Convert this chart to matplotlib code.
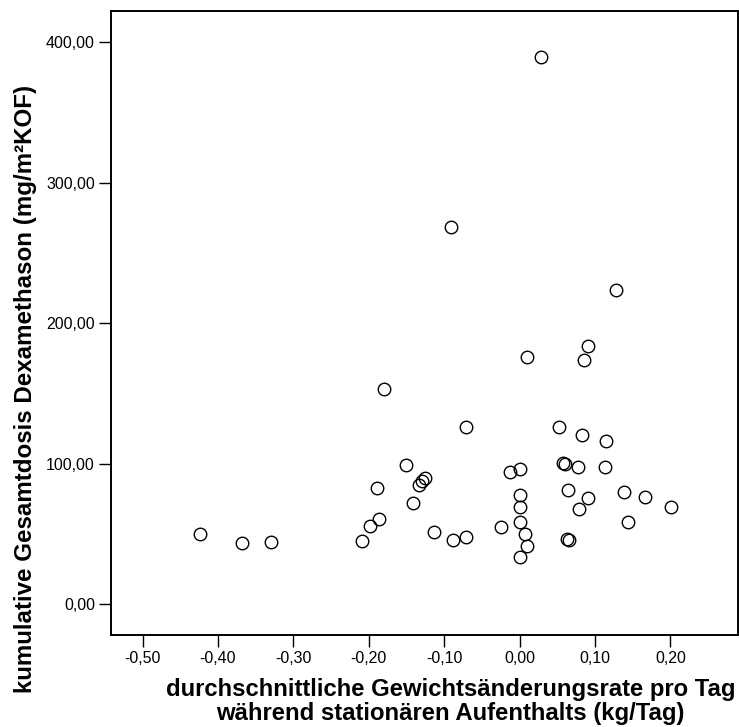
import matplotlib
matplotlib.use("Agg")
import matplotlib.pyplot as plt
from matplotlib.ticker import FuncFormatter

plt.rcParams["font.family"] = ["Liberation Sans", "DejaVu Sans"]

# Gewichtsänderungsrate (kg/Tag) und kumulative Dexamethason-Dosis (mg/m²KOF)
rate = [-0.424, -0.368, -0.330, -0.209, -0.199, -0.187, -0.189, -0.180,
        -0.150, -0.142, -0.126, -0.130, -0.133, -0.114, -0.088, -0.071,
        -0.071, -0.091, -0.025, -0.013, 0.001, 0.001, 0.001, 0.001,
        0.007, 0.010, 0.001, 0.010, 0.029, 0.052, 0.083, 0.114,
        0.058, 0.060, 0.077, 0.113, 0.064, 0.091, 0.079, 0.139,
        0.166, 0.201, 0.144, 0.063, 0.065, 0.128, 0.091, 0.086]
dosis = [49.6, 43.6, 44.1, 45.1, 55.8, 60.7, 82.8, 153.1,
         98.7, 71.7, 89.9, 87.8, 84.7, 51.3, 45.6, 47.9,
         125.8, 268.6, 55.0, 94.2, 96.3, 77.4, 68.8, 58.2,
         49.6, 41.3, 33.7, 176.1, 389.7, 125.8, 120.3, 116.3,
         100.6, 100.0, 97.8, 97.8, 81.2, 75.3, 67.4, 79.5,
         76.4, 69.3, 58.6, 46.1, 45.3, 223.6, 183.9, 173.7]

x_ticks = [-0.5, -0.4, -0.3, -0.2, -0.1, 0.0, 0.1, 0.2]
y_ticks = [0, 100, 200, 300, 400]

fig = plt.figure(figsize=(7.39, 7.27), dpi=100)
ax = fig.add_axes([0.1502, 0.1265, 0.8489, 0.8583])

ax.plot(rate, dosis, linestyle="none", marker="o", markersize=9,
        markerfacecolor="none", markeredgecolor="black", markeredgewidth=1.0)

ax.set_xlim(-0.5418, 0.290)
ax.set_ylim(-22.1, 422.2)
ax.set_xticks(x_ticks)
ax.set_yticks(y_ticks)

comma = FuncFormatter(lambda v, p: f"{v:.2f}".replace(".", ","))
ax.xaxis.set_major_formatter(comma)
ax.yaxis.set_major_formatter(comma)
ax.tick_params(direction="out", length=8.6, width=1.0, labelsize=11.5,
               pad=3, color="black")

for s in ax.spines.values():
    s.set_linewidth(1.4)

# Achsentitel (fett, wie im SPSS-Original leicht versetzt)
fig.text(0.61, 0.0096, "durchschnittliche Gewichtsänderungsrate pro Tag\n"
         "während stationären Aufenthalts (kg/Tag)",
         ha="center", va="baseline", fontsize=17.2, fontweight="bold",
         linespacing=1.07, multialignment="center")
fig.text(0.035, 0.465, "kumulative Gesamtdosis Dexamethason (mg/m²KOF)",
         rotation=90, ha="center", va="center", fontsize=17.4,
         fontweight="bold")

fig.savefig("out.png", dpi=100)
